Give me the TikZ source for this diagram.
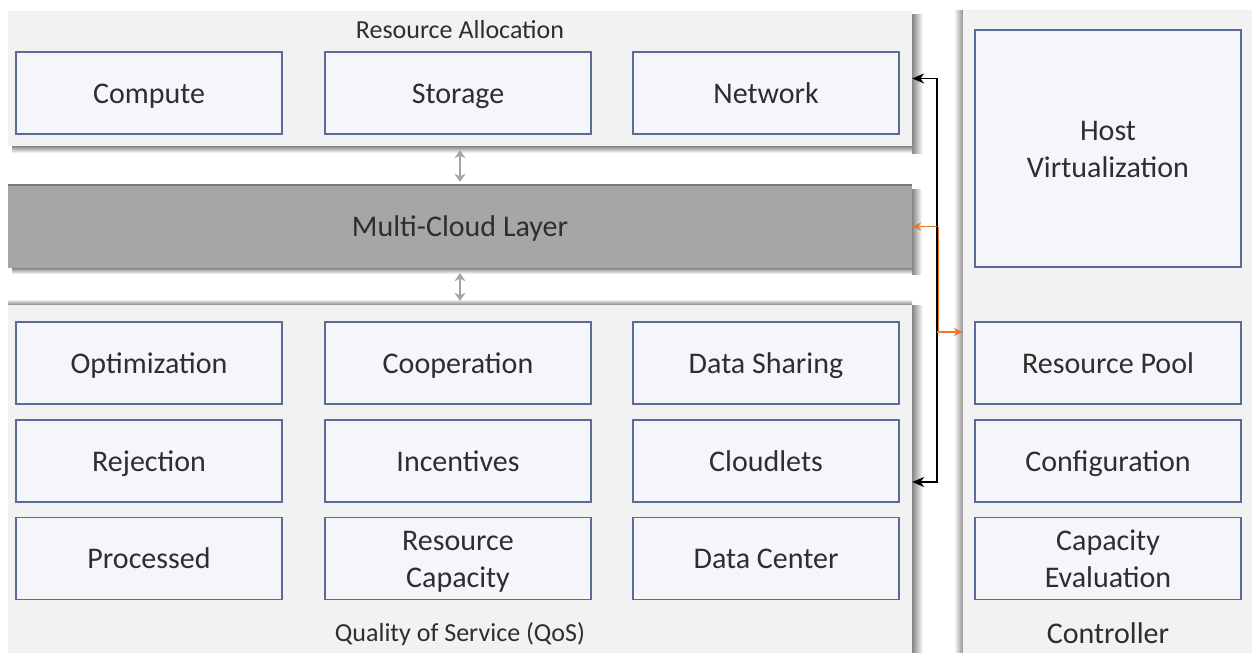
\documentclass[tikz,border=0pt]{standalone}
\usepackage{fontspec}
\setmainfont{Carlito}
\usetikzlibrary{arrows.meta}
\definecolor{panel}{HTML}{F2F2F2}
\definecolor{boxfill}{HTML}{F4F6FA}
\definecolor{boxline}{HTML}{5A6C96}
\definecolor{mcfill}{HTML}{A6A6A6}
\definecolor{txt}{HTML}{2E2E2E}
\definecolor{shad}{HTML}{858585}
\definecolor{orng}{HTML}{E8782A}
\definecolor{garr}{HTML}{A4A4A4}
\begin{document}
\begin{tikzpicture}[x=1pt,y=-1pt,
  box/.style={draw=boxline, line width=1.7pt, fill=boxfill, minimum width=266pt,
    minimum height=82pt, inner sep=0pt, text=txt, align=center,
    text height=20pt, text depth=0pt,
    font=\fontsize{30}{37}\selectfont},
  twoline/.style={text height=57pt},
  panelbox/.style={fill=panel, draw=none, inner sep=0pt},
  lbl/.style={text=txt, inner sep=0pt, text height=17pt, text depth=0pt,
    font=\fontsize{26}{30}\selectfont},
  biglbl/.style={text=txt, inner sep=0pt, text height=20pt, text depth=0pt,
    font=\fontsize{30}{36}\selectfont},
  garrow/.style={draw=garr, line width=2.8pt,
    {Stealth[length=8pt,width=11pt]}-{Stealth[length=8pt,width=11pt]}},
  blk/.style={draw=black, line width=1.8pt},
  orn/.style={draw=orng, line width=1.8pt},
]
\useasboundingbox (0,0) rectangle (1256,653);
\fill[white] (0,0) rectangle (1256,653);

% shadows
\shade[left color=shad, right color=white] (912,14) rectangle (923,153);
\shade[top color=shad, bottom color=white] (12,146) rectangle (912,153);
\shade[left color=shad, right color=white] (912,189) rectangle (922,274);
\shade[top color=shad, bottom color=white] (12,268) rectangle (912,274);
\shade[top color=white, bottom color=shad] (8,299) rectangle (912,305);
\shade[left color=shad, right color=white] (912,305) rectangle (923,653);
\shade[left color=white, right color=shad!90] (954,10) rectangle (963,653);

% panels
\node[panelbox, minimum width=904pt, minimum height=135pt] (topP) at (460,78.5) {};
\node[panelbox, fill=mcfill, minimum width=904pt, minimum height=83pt, text=txt,
  text height=20pt, text depth=0pt,
  font=\fontsize{30}{36}\selectfont] (mc) at (460,226.5) {Multi-Cloud Layer};
\draw[shad!90!black, line width=1.5pt] (mc.north west) -- (mc.north east);
\node[panelbox, minimum width=904pt, minimum height=348pt] (botP) at (460,479) {};
\node[panelbox, minimum width=289pt, minimum height=643pt] (ctrl) at (1107.5,331.5) {};

% labels
\node[lbl] (ra) at (460,30) {Resource Allocation};
\node[lbl] (qos) at (460,633) {Quality of Service (QoS)};
\node[biglbl] (ctl) at (1108,633) {Controller};

% top boxes
\node[box] (compute) at (149,93) {Compute};
\node[box] (storage) at (458,93) {Storage};
\node[box] (network) at (766,93) {Network};

% QoS boxes
\node[box] (optim) at (149,363) {Optimization};
\node[box] (coop) at (458,363) {Cooperation};
\node[box] (dshare) at (766,363) {Data Sharing};
\node[box] (reject) at (149,461) {Rejection};
\node[box] (incent) at (458,461) {Incentives};
\node[box] (cloudlets) at (766,461) {Cloudlets};
\node[box] (proc) at (149,558.5) {Processed};
\node[box, twoline] (rcap) at (458,558.5) {Resource\\Capacity};
\node[box] (dcenter) at (766,558.5) {Data Center};

% controller boxes
\node[box, twoline, minimum height=237pt] (host) at (1108,148.5) {Host\\Virtualization};
\node[box] (rpool) at (1108,363) {Resource Pool};
\node[box] (config) at (1108,461) {Configuration};
\node[box, twoline] (capev) at (1108,558.5) {Capacity\\Evaluation};

% gray double arrows
\draw[garrow, shorten <=4pt, shorten >=3pt] (topP.south) -- (mc.north);
\draw[garrow, shorten <=5pt, shorten >=4pt] (mc.south) -- (botP.north);

% controller connectors
\coordinate (jx) at (937,0);
\coordinate (oj) at (937,332);
\draw[orng, line width=1.1pt] ([xshift=1.5pt]mc.east -| jx) -- ([xshift=1.5pt]oj);
\draw[blk, {Stealth[length=12pt,width=10pt]}-{Stealth[length=12pt,width=10pt]}]
  (topP.east) -- (topP.east -| jx) -- ([yshift=-3pt]botP.east -| jx) -- ([yshift=-3pt]botP.east);
\draw[orn, -{Stealth[length=9pt,width=8pt]}] (mc.east -| jx) -- (mc.east);
\draw[orn, -{Stealth[length=9pt,width=8pt]}] (oj) -- (oj -| ctrl.west);
\end{tikzpicture}
\end{document}
